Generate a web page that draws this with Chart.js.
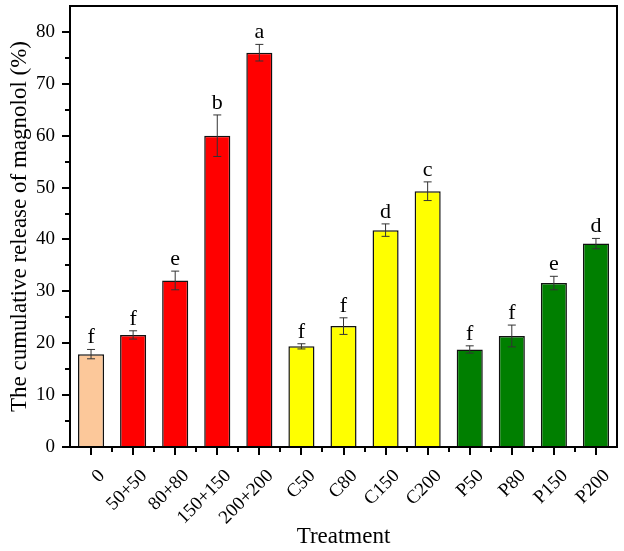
<!DOCTYPE html>
<html>
<head>
<meta charset="utf-8">
<script src="https://cdn.jsdelivr.net/npm/chart.js@4"></script>
<style>
html,body{margin:0;padding:0;background:#fff;}
#wrap{width:624px;height:551px;}
</style>
</head>
<body>
<div id="wrap"><canvas id="c"></canvas></div>
<script>
const categories = ["0","50+50","80+80","150+150","200+200","C50","C80","C150","C200","P50","P80","P150","P200"];
const values = [17.9, 21.6, 32.1, 60.0, 76.0, 19.4, 23.3, 41.8, 49.3, 18.8, 21.4, 31.6, 39.2];
const errors = [0.9, 0.8, 1.8, 4.0, 1.6, 0.5, 1.6, 1.2, 1.8, 0.7, 2.1, 1.3, 1.0];
const letters = ["f","f","e","b","a","f","f","d","c","f","f","e","d"];
const barColors = ["#FCC89A","#FF0000","#FF0000","#FF0000","#FF0000","#FFFF00","#FFFF00","#FFFF00","#FFFF00","#007F00","#007F00","#007F00","#007F00"];
const yTickValues = [0,10,20,30,40,50,60,70,80];

const FONT = "'Liberation Serif','Times New Roman',serif";

const overlay = {
  id: 'overlay',
  afterDatasetsDraw(chart) {
    const ctx = chart.ctx;
    const x = chart.scales.x, y = chart.scales.y;
    const area = chart.chartArea;
    ctx.save();
    values.forEach((v, i) => {
      const cx = x.getPixelForValue(i);
      const yt = y.getPixelForValue(v + errors[i]);
      const yb = y.getPixelForValue(v - errors[i]);
      ctx.strokeStyle = '#333';
      ctx.lineWidth = 1;
      ctx.beginPath();
      ctx.moveTo(cx, yt); ctx.lineTo(cx, yb);
      ctx.moveTo(cx - 4, yt); ctx.lineTo(cx + 4, yt);
      ctx.moveTo(cx - 4, yb); ctx.lineTo(cx + 4, yb);
      ctx.stroke();
      ctx.fillStyle = '#000';
      ctx.font = "22px " + FONT;
      ctx.textAlign = 'center';
      ctx.textBaseline = 'bottom';
      ctx.fillText(letters[i], cx, yt - 1);
    });
    ctx.strokeStyle = '#000';
    ctx.lineWidth = 2;
    ctx.strokeRect(area.left, area.top, area.right - area.left, area.bottom - area.top);
    ctx.beginPath();
    for (let t = 0; t <= 80; t += 5) {
      const py = Math.round(y.getPixelForValue(t));
      const len = (t % 10 === 0) ? 8 : 5;
      ctx.moveTo(area.left, py); ctx.lineTo(area.left - len, py);
    }
    for (let i = 0; i < categories.length; i++) {
      const px = Math.round(x.getPixelForValue(i));
      ctx.moveTo(px, area.bottom); ctx.lineTo(px, area.bottom + 8);
    }
    for (let i = 0; i < categories.length - 1; i++) {
      const px = Math.round((x.getPixelForValue(i) + x.getPixelForValue(i + 1)) / 2);
      ctx.moveTo(px, area.bottom); ctx.lineTo(px, area.bottom + 5);
    }
    ctx.stroke();
    ctx.restore();
  }
};

new Chart(document.getElementById('c'), {
  type: 'bar',
  data: {
    labels: categories,
    datasets: [{
      data: values,
      backgroundColor: barColors,
      borderColor: '#111',
      borderWidth: 1.5,
      categoryPercentage: 1.0,
      barPercentage: 0.62
    }]
  },
  options: {
    responsive: true,
    maintainAspectRatio: false,
    animation: false,
    devicePixelRatio: 1,
    layout: { padding: { top: 6, right: 7, left: 0, bottom: 0 } },
    plugins: { legend: { display: false }, tooltip: { enabled: false } },
    scales: {
      x: {
        grid: { display: false, drawTicks: false },
        border: { display: false },
        ticks: {
          color: '#000',
          font: { family: FONT, size: 19 },
          maxRotation: 45, minRotation: 45,
          padding: 18,
          labelOffset: 11,
          autoSkip: false
        },
        title: {
          display: true, text: 'Treatment', color: '#000',
          font: { family: FONT, size: 23 },
          padding: { top: 0, bottom: 0 }
        },
        afterFit(s) { s.height = 104; s.paddingLeft = 0; s.paddingRight = 0; }
      },
      y: {
        min: 0, max: 85,
        afterBuildTicks(s) { s.ticks = yTickValues.map(v => ({ value: v })); },
        grid: { display: false, drawTicks: false },
        border: { display: false },
        ticks: {
          color: '#000',
          font: { family: FONT, size: 19 },
          padding: 15
        },
        title: {
          display: true, text: 'The cumulative release of magnolol (%)', color: '#000',
          font: { family: FONT, size: 23 },
          padding: { top: 6, bottom: 2 }
        },
        afterFit(s) { s.width = 70; s.paddingTop = 0; s.paddingBottom = 0; }
      }
    }
  },
  plugins: [overlay]
});
</script>
</body>
</html>
